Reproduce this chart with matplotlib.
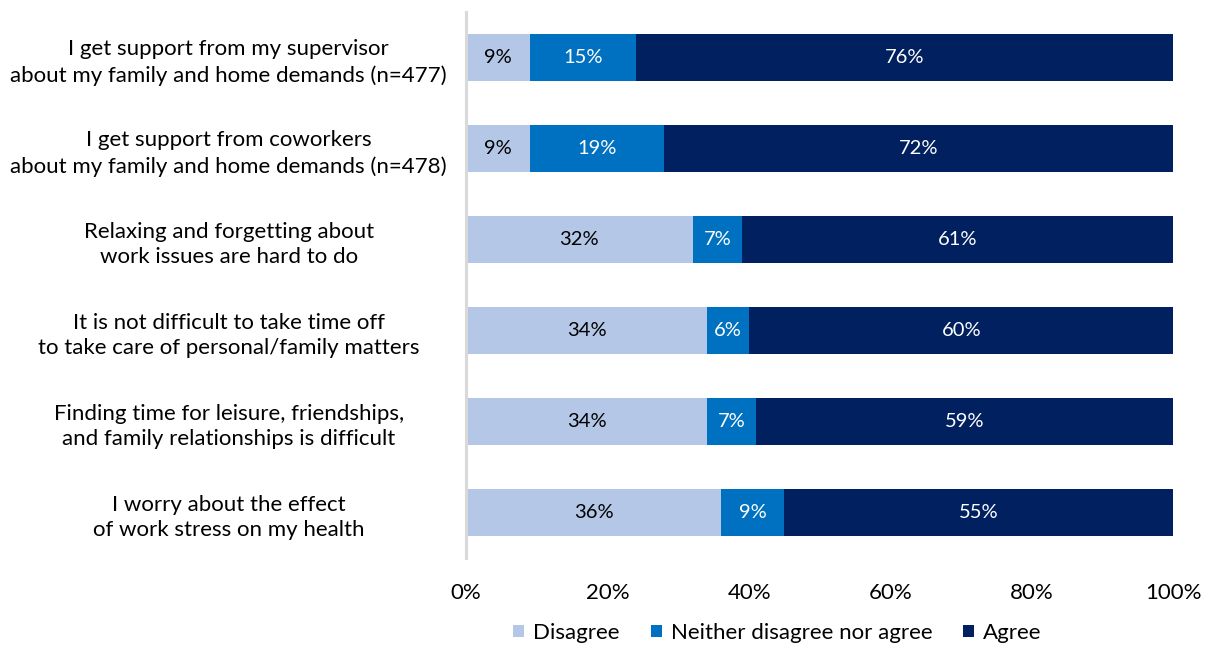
import matplotlib.pyplot as plt
import numpy as np

plt.rcParams['font.family'] = ['Lato', 'DejaVu Sans']

statements = [
    "I get support from my supervisor\nabout my family and home demands (n=477)",
    "I get support from coworkers\nabout my family and home demands (n=478)",
    "Relaxing and forgetting about\nwork issues are hard to do",
    "It is not difficult to take time off\nto take care of personal/family matters",
    "Finding time for leisure, friendships,\nand family relationships is difficult",
    "I worry about the effect\nof work stress on my health",
]
disagree = [9, 9, 32, 34, 34, 36]
neither = [15, 19, 7, 6, 7, 9]
agree = [76, 72, 61, 60, 59, 55]

series = [
    ("Disagree", disagree, "#b4c7e7", "black"),
    ("Neither disagree nor agree", neither, "#0070c0", "white"),
    ("Agree", agree, "#002060", "white"),
]

fig = plt.figure(figsize=(12.11, 6.46), dpi=100)
ax = fig.add_axes([0.385, 0.136, 0.584, 0.845])

y = np.arange(len(statements))
left = np.zeros(len(statements))
for name, vals, color, txt in series:
    vals = np.array(vals, dtype=float)
    bars = ax.barh(y, vals, left=left, height=0.52, color=color, label=name)
    for b, v in zip(bars, vals):
        ax.text(b.get_x() + b.get_width() / 2, b.get_y() + b.get_height() / 2,
                f"{v:.0f}%", ha="center", va="center", color=txt, fontsize=14.5)
    left += vals

ax.set_xlim(0, 100)
ax.set_ylim(len(statements) - 0.5, -0.5)
ax.set_yticks(y)
ax.set_yticklabels(statements, fontsize=16, ha="center", linespacing=1.35)
ax.tick_params(axis="y", length=0, pad=171)
ax.set_xticks(np.arange(0, 101, 20))
ax.set_xticklabels([f"{t}%" for t in range(0, 101, 20)], fontsize=16)
ax.tick_params(axis="x", length=0, pad=18)

for s in ["top", "right", "bottom"]:
    ax.spines[s].set_visible(False)
ax.spines["left"].set_color("#d9d9d9")
ax.spines["left"].set_linewidth(2.2)

ax.legend(loc="upper center", bbox_to_anchor=(0.44, -0.09), ncol=3, frameon=False,
          fontsize=16, handlelength=0.5, handleheight=0.5, handletextpad=0.4,
          columnspacing=1.4, borderpad=0.2)

fig.savefig("out.png", dpi=100)
